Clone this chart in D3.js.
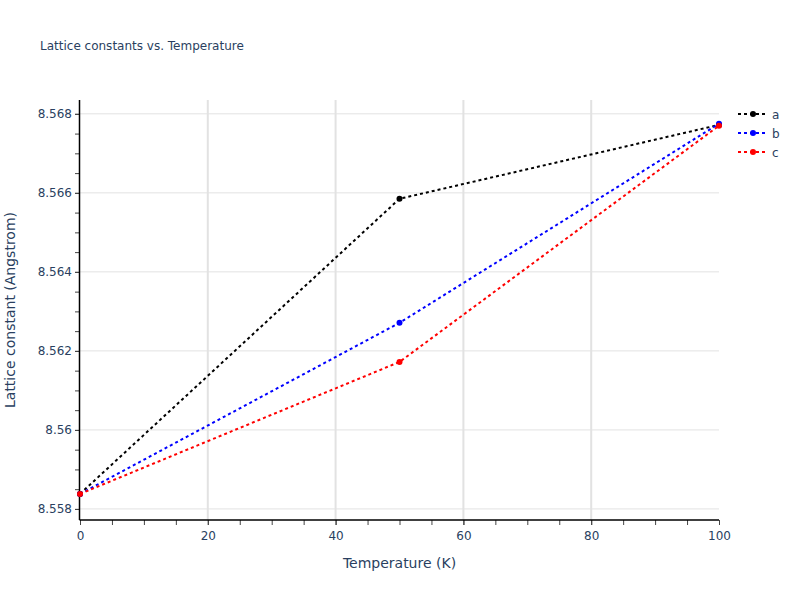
<!DOCTYPE html>
<html>
<head>
<meta charset="utf-8">
<script src="https://cdn.jsdelivr.net/npm/d3@7"></script>
<style>
    body { margin: 0; background: #fff; }
    text { font-family: "DejaVu Sans", verdana, arial, sans-serif; fill: #2a3f5f; }
</style>
</head>
<body>
<div id="chart"></div>
<script>
// Daten
const temperatures = [0, 50, 100];
const seriesNames = ["a", "b", "c"];
const seriesColors = ["black", "blue", "red"];
const valuesA = [8.55838, 8.56585, 8.56772];
const valuesB = [8.55838, 8.56271, 8.56775];
const valuesC = [8.55838, 8.56172, 8.56770];
const xTicks = [0, 20, 40, 60, 80, 100];
const yTicks = [8.558, 8.56, 8.562, 8.564, 8.566, 8.568];

const seriesValues = [valuesA, valuesB, valuesC];
const fontFamily = "\"DejaVu Sans\", verdana, arial, sans-serif";

const width = 800;
const height = 600;
const margin = { top: 100, right: 81, bottom: 80, left: 80 };

const svg = d3.select("#chart")
    .append("svg")
    .attr("width", width)
    .attr("height", height);

const x = d3.scaleLinear()
    .domain([0, 100])
    .range([margin.left, width - margin.right]);

const y = d3.scaleLinear()
    .domain([8.55772, 8.56835])
    .range([height - margin.bottom, margin.top]);

// Gitterlinien
svg.append("g")
    .selectAll("line")
    .data(xTicks.filter(d => d > 0 && d < 100))
    .enter()
    .append("line")
    .attr("x1", d => x(d))
    .attr("x2", d => x(d))
    .attr("y1", margin.top)
    .attr("y2", height - margin.bottom)
    .attr("stroke", "#e2e2e2")
    .attr("stroke-width", 2);

svg.append("g")
    .selectAll("line")
    .data(yTicks)
    .enter()
    .append("line")
    .attr("x1", margin.left)
    .attr("x2", width - margin.right)
    .attr("y1", d => y(d))
    .attr("y2", d => y(d))
    .attr("stroke", "#e2e2e2")
    .attr("stroke-width", 1);

// Achsen mit kleinen Ticks
const xMinor = d3.range(0, 100.01, 5);
const yMinor = d3.range(8.558, 8.5683, 0.0005);

const xAxisMinor = d3.axisBottom(x).tickValues(xMinor).tickSize(5).tickFormat("");
const xAxis = d3.axisBottom(x).tickValues(xTicks).tickSize(5).tickPadding(6).tickFormat(d3.format("d"));
const yAxisMinor = d3.axisLeft(y).tickValues(yMinor).tickSize(5).tickFormat("");
const yAxis = d3.axisLeft(y).tickValues(yTicks).tickSize(5).tickPadding(3).tickFormat(d => d3.format("")(+d.toFixed(3)));

const gx = svg.append("g").attr("transform", `translate(0, ${height - margin.bottom})`);
gx.call(xAxisMinor);
gx.append("g").call(xAxis);
const gy = svg.append("g").attr("transform", `translate(${margin.left}, 0)`);
gy.call(yAxisMinor);
gy.append("g").call(yAxis);

[gx, gy].forEach(g => {
    g.selectAll(".domain").remove();
    g.selectAll("line").attr("stroke", "#444");
    g.selectAll("text")
        .style("font-size", "12px")
        .style("fill", "#2a3f5f")
        .style("font-family", fontFamily);
});

svg.append("line")
    .attr("x1", margin.left - 0.5).attr("x2", width - margin.right)
    .attr("y1", height - margin.bottom).attr("y2", height - margin.bottom)
    .attr("stroke", "black").attr("stroke-width", 1.5);
svg.append("line")
    .attr("x1", margin.left - 0.5).attr("x2", margin.left - 0.5)
    .attr("y1", margin.top).attr("y2", height - margin.bottom)
    .attr("stroke", "black").attr("stroke-width", 1.5);

// Linien und Punkte
const line = d3.line()
    .x((d, i) => x(temperatures[i]))
    .y(d => y(d));

seriesValues.forEach((vals, s) => {
    svg.append("path")
        .datum(vals)
        .attr("d", line)
        .attr("fill", "none")
        .attr("stroke", seriesColors[s])
        .attr("stroke-width", 2)
        .attr("stroke-dasharray", "3,3");

    svg.append("g")
        .selectAll("circle")
        .data(vals)
        .enter()
        .append("circle")
        .attr("cx", (d, i) => x(temperatures[i]))
        .attr("cy", d => y(d))
        .attr("r", 3)
        .attr("fill", seriesColors[s]);
});

// Titel und Achsenbeschriftung
svg.append("text")
    .attr("x", 40)
    .attr("y", 50)
    .style("font-size", "12px")
    .text("Lattice constants vs. Temperature");

svg.append("text")
    .attr("x", (margin.left + width - margin.right) / 2)
    .attr("y", 568)
    .attr("text-anchor", "middle")
    .style("font-size", "14px")
    .text("Temperature (K)");

svg.append("text")
    .attr("transform", `translate(15, ${(margin.top + height - margin.bottom) / 2}) rotate(-90)`)
    .attr("text-anchor", "middle")
    .style("font-size", "14px")
    .text("Lattice constant (Angstrom)");

// Legende
const legend = svg.append("g")
    .attr("transform", "translate(738, 114)");

seriesNames.forEach((name, i) => {
    const item = legend.append("g")
        .attr("transform", `translate(0, ${i * 19})`);

    item.append("line")
        .attr("x1", 0).attr("x2", 30)
        .attr("stroke", seriesColors[i])
        .attr("stroke-width", 2)
        .attr("stroke-dasharray", "3,3");

    item.append("circle")
        .attr("cx", 15)
        .attr("r", 3)
        .attr("fill", seriesColors[i]);

    item.append("text")
        .attr("x", 34)
        .attr("y", 4.5)
        .style("font-size", "12px")
        .text(name);
});
</script>
</body>
</html>
